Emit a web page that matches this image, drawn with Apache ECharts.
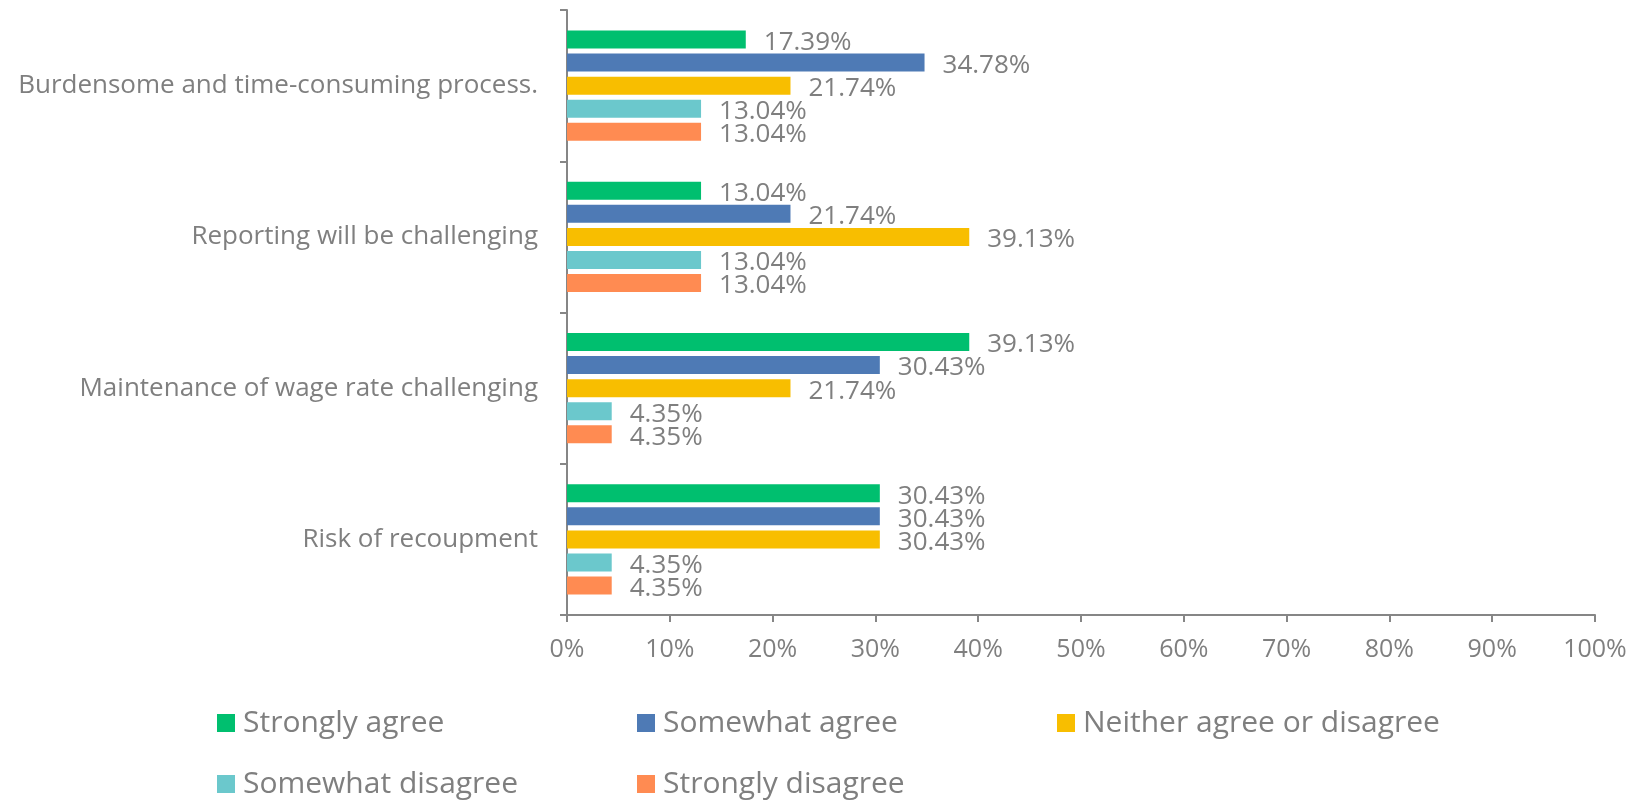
<!DOCTYPE html>
<html>
<head>
<meta charset="utf-8">
<script src="https://cdn.jsdelivr.net/npm/echarts@6/dist/echarts.min.js"></script>
<style>
  html, body { margin: 0; padding: 0; background: #ffffff; }
  #chart { width: 1637px; height: 801px; }
</style>
</head>
<body>
<div id="chart"></div>
<script>
// Survey statements (top to bottom)
const categories = [
  'Burdensome and time-consuming process.',
  'Reporting will be challenging',
  'Maintenance of wage rate challenging',
  'Risk of recoupment'
];

// Response shares (%) per statement
const seriesNames = ['Strongly agree', 'Somewhat agree', 'Neither agree or disagree', 'Somewhat disagree', 'Strongly disagree'];
const stronglyAgree   = [17.39, 13.04, 39.13, 30.43];
const somewhatAgree   = [34.78, 21.74, 30.43, 30.43];
const neither         = [21.74, 39.13, 21.74, 30.43];
const somewhatDisagree = [13.04, 13.04, 4.35, 4.35];
const stronglyDisagree = [13.04, 13.04, 4.35, 4.35];

const seriesValues = [stronglyAgree, somewhatAgree, neither, somewhatDisagree, stronglyDisagree];
const colors = ['#00bf6f', '#4e7ab5', '#f8be00', '#6bc8cc', '#ff8b52'];

const fontFamily = '"Open Sans", "Noto Sans", sans-serif';
const textGray = '#7f7f7f';
const axisGray = '#868686';

// Legend laid out as a 3-column grid, one legend block per entry
const legendSlots = [
  { left: 212, top: 702 }, { left: 632, top: 702 }, { left: 1052, top: 702 },
  { left: 212, top: 763 }, { left: 632, top: 763 }
];

const chart = echarts.init(document.getElementById('chart'), null, { renderer: 'canvas' });

chart.setOption({
  animation: false,
  backgroundColor: '#ffffff',
  grid: { left: 567, right: 42, top: 10, bottom: 186, containLabel: false },
  legend: seriesNames.map((name, i) => ({
    data: [name],
    left: legendSlots[i].left,
    top: legendSlots[i].top,
    itemWidth: 18,
    itemHeight: 18,
    icon: 'rect',
    textStyle: { color: textGray, fontSize: 30, fontFamily: fontFamily, padding: [0, 0, 0, 3], lineHeight: 32 }
  })),
  xAxis: {
    type: 'value',
    min: 0,
    max: 100,
    interval: 10,
    axisLine: { show: true, lineStyle: { color: axisGray, width: 2 } },
    axisTick: { show: true, length: 7, lineStyle: { color: axisGray, width: 2 } },
    splitLine: { show: false },
    axisLabel: { formatter: '{value}%', color: textGray, fontSize: 25, fontFamily: fontFamily, margin: 22 }
  },
  yAxis: {
    type: 'category',
    data: categories,
    inverse: true,
    axisLine: { show: true, lineStyle: { color: axisGray, width: 2 } },
    axisTick: { show: true, length: 7, lineStyle: { color: axisGray, width: 2 } },
    axisLabel: { color: textGray, fontSize: 26, fontFamily: fontFamily, margin: 29 }
  },
  series: seriesNames.map((name, i) => ({
    name: name,
    type: 'bar',
    data: seriesValues[i],
    barWidth: 18,
    barGap: '28%',
    itemStyle: { color: colors[i] },
    label: {
      show: true,
      position: 'right',
      distance: 18,
      offset: [0, 3],
      formatter: (p) => p.value.toFixed(2) + '%',
      color: textGray,
      fontSize: 26,
      fontFamily: fontFamily
    }
  }))
});
</script>
</body>
</html>
